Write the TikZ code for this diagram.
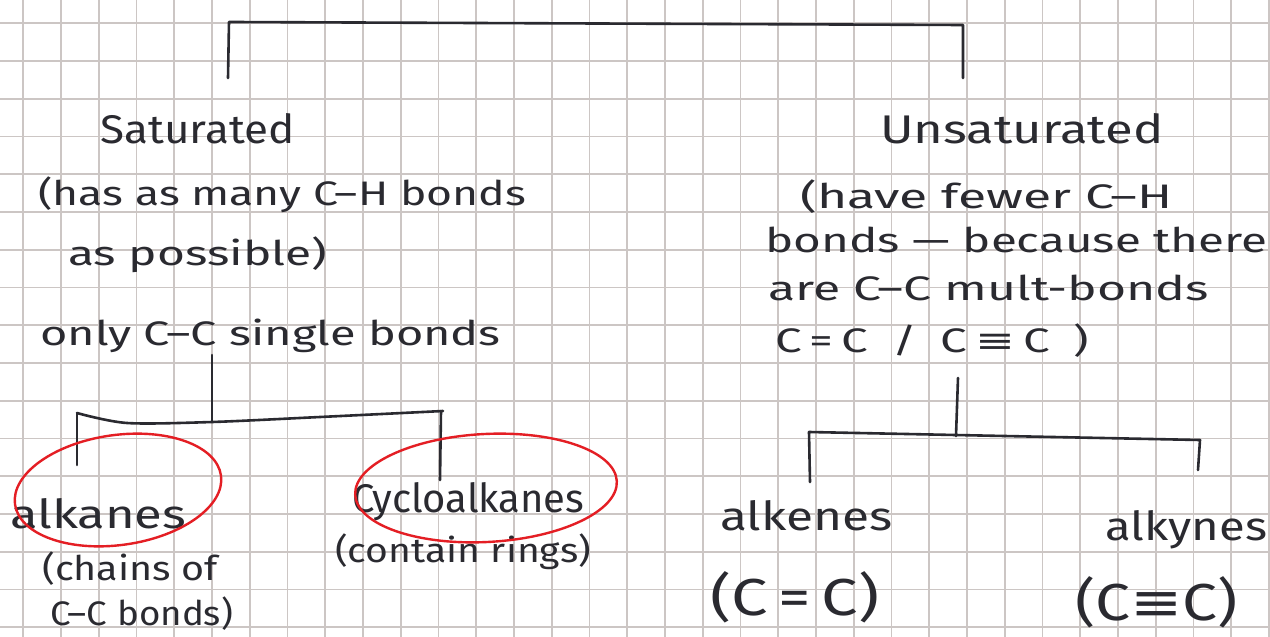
\documentclass[tikz,border=0pt]{standalone}
\usepackage{fontspec}
\setmainfont{Fira Sans}
\newfontfamily\symf{DejaVu Sans}
\begin{document}
\begin{tikzpicture}[x=1pt,y=-1pt,
  ink/.style={draw=inkc,line width=2.6pt,line cap=round,line join=round},
  circ/.style={draw=redc,line width=2.4pt},
  hw/.style={text=inkc,inner sep=0pt,anchor=base west,font=\fontsize{34}{34}\selectfont},
  hwb/.style={hw,font=\fontsize{40}{40}\selectfont},
  hwc/.style={hw,font=\fontsize{52}{52}\selectfont},
  sx/.style={transform shape,xscale=#1}]
\definecolor{inkc}{RGB}{42,42,48}
\definecolor{redc}{RGB}{228,30,36}
\definecolor{gridc}{RGB}{204,198,196}
\useasboundingbox (0,0) rectangle (1270,637);
\fill[white] (0,0) rectangle (1270,637);
\foreach \k in {0,...,33} {\draw[gridc,line width=1.8pt] ({23.3+37.75*\k},0) -- ({23.3+37.75*\k},637);}
\foreach \k in {0,...,16} {\draw[gridc,line width=1.8pt] (0,{23.3+37.75*\k}) -- (1270,{23.3+37.75*\k});}

% texts
\node[hwb,sx=1.10] (sat) at (100,143) {Saturated};
\node[hw,sx=1.31] (s1) at (38,205) {(has as many C–H bonds};
\node[hw,sx=1.41] (s2) at (68,265) {as possible)};
\node[hw,sx=1.38] (s3) at (40,345) {only C–C single bonds};
\node[hwb,sx=1.27] (alkanes) at (10,528) {alkanes};
\node[hw,sx=1.16] (a1) at (42,580) {(chains of};
\node[hw,sx=1.08] (a2) at (50,625) {C–C bonds)};
\node[hwb,sx=1.0] (cyc) at (352,512) {Cycloalkanes};
\node[hw,sx=1.15] (c1) at (335,562) {(contain rings)};

\node[hwb,sx=1.27] (unsat) at (880,143) {Unsaturated};
\node[hw,sx=1.52] (u1) at (800,208) {(have fewer C–H};
\node[hw,sx=1.40] (u2) at (765,252) {bonds — because there};
\node[hw,sx=1.40] (u4) at (775,352) {C\,=\,C\enspace/\enspace C\,{\symf ≡}\,C\enspace)};
\node[hw,sx=1.47] (u3) at (768,300) {are C–C mult-bonds};
\node[hwb,sx=1.24] (alkenes) at (720,530) {alkenes};
\node[hwc,sx=1.25] (ak1) at (710,615) {(C\,=\,C)};
\node[hwb,sx=1.18] (alkynes) at (1105,540) {alkynes};
\node[hwc,sx=1.2] (ay1) at (1075,620) {(C{\symf ≡}C)};

% top bracket
\coordinate (tl) at (232,22);
\coordinate (tr) at (963,25);
\draw[ink] (228,78) -- (229,22) -- (tl) -- (tr) -- (963,78);

% left bracket
\coordinate (lj) at (212,422);
\draw[ink] (212,355) -- (lj);
\draw[ink] (77,465) -- (77,413);
\draw[ink] plot[smooth] coordinates {(77,413) (127,423) (212,422) (320,417) (443,411)};
\draw[ink] (441,411) -- (440,480);

% right bracket
\coordinate (rj) at (956,436);
\draw[ink] (958,378) -- (rj);
\draw[ink] (810,482) -- (809,432) -- (1200,440) -- (1198,470);

% red circles
\draw[circ,rotate around={8:(118,490)}] (118,490) ellipse [x radius=104,y radius=55];
\draw[circ,rotate around={3:(486,488)}] (486,488) ellipse [x radius=131,y radius=54];
\end{tikzpicture}
\end{document}
